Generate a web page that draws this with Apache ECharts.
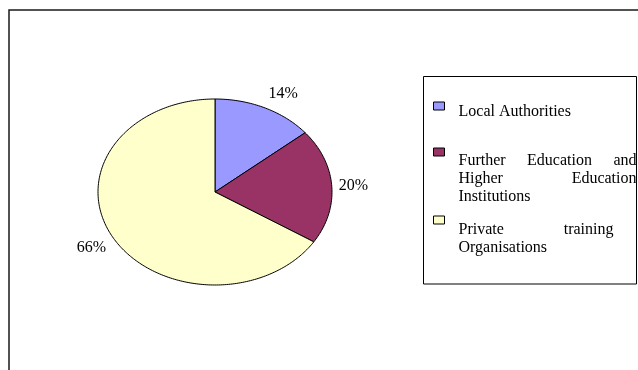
<!DOCTYPE html>
<html>
<head>
<meta charset="utf-8">
<script src="https://cdn.jsdelivr.net/npm/echarts@6/dist/echarts.min.js"></script>
<style>
  html, body { margin: 0; padding: 0; background: #fff; }
  #chart { width: 638px; height: 370px; }
</style>
</head>
<body>
<div id="chart"></div>
<script>
// Share of provision by type of provider
const categories = [
  'Local Authorities',
  'Further Education and Higher Education Institutions',
  'Private training Organisations'
];
const shares = [14, 20, 66];

// Legend wording, one entry per line as it is set in the key box
const legendLines = [
  ['Local Authorities'],
  ['Further Education and', 'Higher Education', 'Institutions'],
  ['Private training', 'Organisations']
];

const sliceColors = ['#9999FF', '#993366', '#FFFFCC'];

const FONT_FAMILY = '"Liberation Serif", "Times New Roman", serif';
const FONT_SIZE = 16;
const LINE_H = 18;

// Key box layout: justified line widths, marker tops, first text line tops
const justifyWidths = [[null], [178, 178, null], [155, null]];
const markerTops = [102, 148, 216];
const firstLineTops = [103, 151.6, 220.6];
const MARKER_W = 11, MARKER_H = 8;

const total = shares.reduce((a, b) => a + b, 0);

// Start / end fraction of each slice, clockwise from twelve o'clock
let running = 0;
const sliceRanges = shares.map(v => {
  const start = running / total;
  running += v;
  return [start, running / total, v];
});

const measureCtx = document.createElement('canvas').getContext('2d');
measureCtx.font = FONT_SIZE + 'px ' + FONT_FAMILY;
const wordWidth = w => measureCtx.measureText(w).width;

// Build justified rich text for one key entry
function buildKeyText(idx) {
  const rich = {};
  const lines = legendLines[idx].map((line, li) => {
    const target = justifyWidths[idx][li];
    const words = line.split(' ');
    if (!target || words.length < 2) return line;
    const widths = words.map(wordWidth);
    const gap = (target - widths.reduce((a, b) => a + b, 0)) / (words.length - 1);
    return words.map((w, wi) => {
      if (wi === words.length - 1) return w;
      const key = 'j' + idx + 'l' + li + 'w' + wi;
      rich[key] = {
        width: widths[wi] + gap,
        fontFamily: FONT_FAMILY, fontSize: FONT_SIZE, lineHeight: LINE_H, color: '#000'
      };
      return '{' + key + '|' + w + '}';
    }).join('');
  });
  return { text: lines.join('\n'), rich };
}

function renderSlice(params, api) {
  const s = api.value(0), e = api.value(1), v = api.value(2);
  const c = api.coord([0, 0]);
  const pts = [c];
  const steps = Math.max(2, Math.ceil((e - s) * 360));
  for (let k = 0; k <= steps; k++) {
    const a = 2 * Math.PI * (s + (e - s) * k / steps);
    pts.push(api.coord([Math.sin(a), Math.cos(a)]));
  }
  const mid = Math.PI * (s + e);
  const edge = api.coord([Math.sin(mid), Math.cos(mid)]);
  let dx = edge[0] - c[0], dy = edge[1] - c[1];
  const len = Math.hypot(dx, dy);
  dx /= len; dy /= len;
  const gap = 7;
  const sx = Math.sin(mid), cy = Math.cos(mid);
  return {
    type: 'group',
    children: [
      {
        type: 'polygon',
        shape: { points: pts },
        style: { fill: api.visual('color'), stroke: '#000', lineWidth: 1 }
      },
      {
        type: 'text',
        style: {
          text: Math.round(v / total * 100) + '%',
          x: edge[0] + dx * gap,
          y: edge[1] + dy * gap,
          align: sx > 0.3 ? 'left' : (sx < -0.3 ? 'right' : 'center'),
          verticalAlign: cy > 0.3 ? 'bottom' : (cy < -0.3 ? 'top' : 'middle'),
          font: FONT_SIZE + 'px ' + FONT_FAMILY,
          fill: '#000'
        }
      }
    ]
  };
}

const legends = categories.map((name, i) => {
  const built = buildKeyText(i);
  const n = legendLines[i].length;
  // Top padding pulls the first text line level with the marker
  const padTop = Math.max(0, 2 * (firstLineTops[i] + n * LINE_H / 2 - markerTops[i] - MARKER_H / 2));
  // The padded text block is centred on the marker, so it sets the entry's top edge
  const entryTop = Math.min(markerTops[i], firstLineTops[i] - padTop);
  return {
    data: [name],
    orient: 'vertical',
    left: 433,
    top: entryTop,
    padding: 0,
    itemWidth: MARKER_W,
    itemHeight: MARKER_H,
    icon: 'rect',
    selectedMode: false,
    itemStyle: { borderColor: '#000', borderWidth: 1 },
    formatter: () => built.text,
    textStyle: {
      fontFamily: FONT_FAMILY,
      fontSize: FONT_SIZE,
      lineHeight: LINE_H,
      color: '#000',
      padding: [padTop, 0, 0, 9],
      rich: built.rich
    }
  };
});

const chart = echarts.init(document.getElementById('chart'), null, { renderer: 'canvas' });
chart.setOption({
  animation: false,
  backgroundColor: '#fff',
  grid: { left: 98, top: 99, width: 234, height: 186 },
  xAxis: { type: 'value', min: -1, max: 1, show: false },
  yAxis: { type: 'value', min: -1, max: 1, show: false },
  legend: legends,
  graphic: [
    {
      type: 'rect', z: -10,
      shape: { x: 9, y: 10, width: 800, height: 600 },
      style: { fill: 'none', stroke: '#1a1a1a', lineWidth: 1.5 }
    },
    {
      type: 'rect', z: -10,
      shape: { x: 423.5, y: 76.5, width: 213, height: 207.5 },
      style: { fill: '#fff', stroke: '#000', lineWidth: 1 }
    }
  ],
  series: categories.map((name, i) => ({
    type: 'custom',
    name: name,
    coordinateSystem: 'cartesian2d',
    clip: false,
    itemStyle: { color: sliceColors[i] },
    data: [sliceRanges[i]],
    renderItem: renderSlice
  }))
});
</script>
</body>
</html>
